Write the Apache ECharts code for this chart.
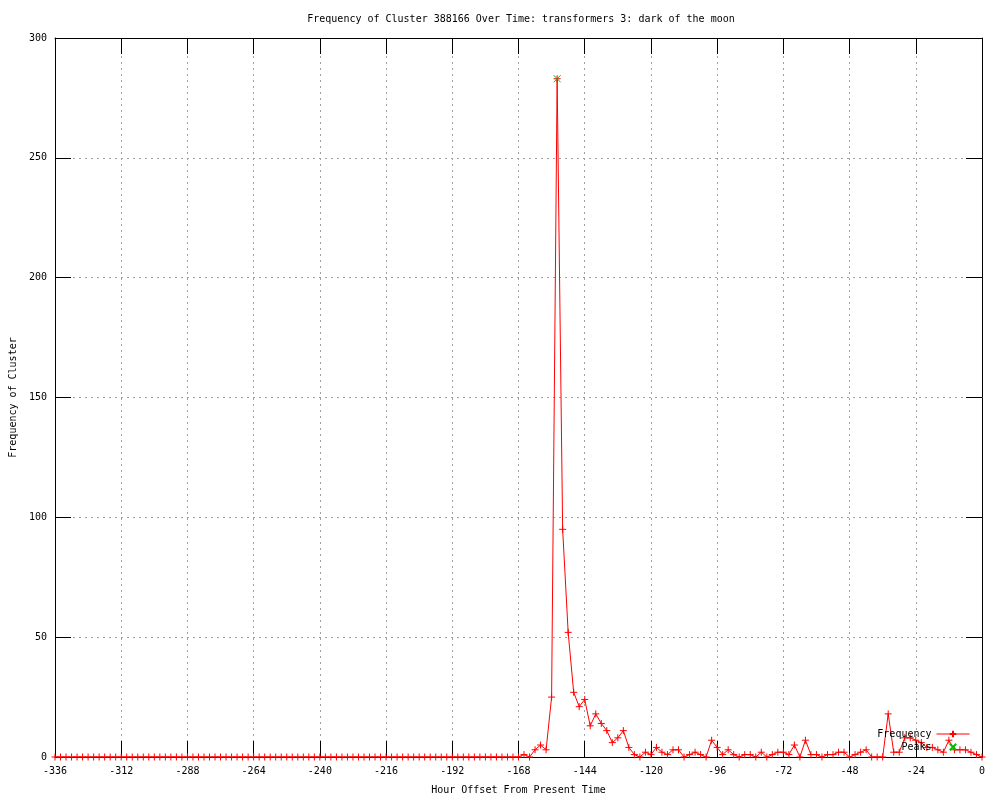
<!DOCTYPE html>
<html>
<head>
<meta charset="utf-8">
<script src="https://cdn.jsdelivr.net/npm/echarts@6/dist/echarts.min.js"></script>
<style>html,body{margin:0;padding:0;background:#fff}#c{width:1000px;height:800px}</style>
</head>
<body>
<div id="c"></div>
<script>
const titleText = 'Frequency of Cluster 388166 Over Time: transformers 3: dark of the moon';
const xName = 'Hour Offset From Present Time';
const yName = 'Frequency of Cluster';
const startHour = -336;
const stepHours = 2;
// Frequency values every 2 hours from -336 to 0
const frequency = [
  0,0,0,0,0,0,0,0,0,0, 0,0,0,0,0,0,0,0,0,0,
  0,0,0,0,0,0,0,0,0,0, 0,0,0,0,0,0,0,0,0,0,
  0,0,0,0,0,0,0,0,0,0, 0,0,0,0,0,0,0,0,0,0,
  0,0,0,0,0,0,0,0,0,0, 0,0,0,0,0,0,0,0,0,0,
  0,0,0,0,
  0,1,0,3,5,3,25,283,95,52,
  27,21,24,13,18,14,11,6,8,11,
  4,1,0,2,1,4,2,1,3,3,
  0,1,2,1,0,7,4,1,3,1,
  0,1,1,0,2,0,1,2,2,1,
  5,0,7,1,1,0,1,1,2,2,
  0,1,2,3,0,0,0,18,2,2,
  8,8,7,6,4,4,3,2,7,3,
  3,3,2,1,0
];
const peakHours = [-154];
const peakValues = [283];
const xTicks = {min: -336, max: 0, interval: 24};
const yTicks = {min: 0, max: 300, interval: 50};

const freqData = frequency.map((v, i) => [startHour + i * stepHours, v]);
const peakData = peakHours.map((h, i) => [h, peakValues[i]]);

const FONT = 'DejaVu Sans Mono';
const gridLine = {show: true, showMinLine: false, showMaxLine: false, lineStyle: {color: '#a0a0a0', width: 1, type: [2, 4]}};
const tick = {show: true, inside: true, length: 16, lineStyle: {color: '#000', width: 1}};
const axLine = {show: true, onZero: false, lineStyle: {color: '#000', width: 1}};
const lbl = {color: '#000', fontFamily: FONT, fontSize: 10};

const chart = echarts.init(document.getElementById('c'), null, {renderer: 'canvas'});
chart.setOption({
  animation: false,
  backgroundColor: '#fff',
  title: {
    text: titleText, left: 516, top: 9, textAlign: 'center',
    textStyle: {fontFamily: FONT, fontSize: 10, fontWeight: 'normal', color: '#000'}
  },
  grid: {left: 55, right: 18, top: 38, bottom: 40, show: false},
  legend: {
    orient: 'vertical', right: 30, top: 729, align: 'right', padding: 0,
    itemGap: 3, itemWidth: 33, itemHeight: 8,
    textStyle: {fontFamily: FONT, fontSize: 10, color: '#000'},
    data: [
      {name: 'Frequency', lineStyle: {width: 1, color: '#ff0000'}},
      {name: 'Peaks', lineStyle: {width: 0, opacity: 0}}
    ]
  },
  xAxis: [
    {type: 'value', position: 'bottom', min: xTicks.min, max: xTicks.max, interval: xTicks.interval,
     axisLine: axLine, axisTick: tick, splitLine: gridLine,
     axisLabel: Object.assign({margin: 9}, lbl),
     name: xName, nameLocation: 'middle', nameGap: 28, nameTextStyle: lbl},
    {type: 'value', position: 'top', min: xTicks.min, max: xTicks.max, interval: xTicks.interval,
     axisLine: axLine, axisTick: tick, splitLine: {show: false}, axisLabel: {show: false}}
  ],
  yAxis: [
    {type: 'value', position: 'left', min: yTicks.min, max: yTicks.max, interval: yTicks.interval,
     axisLine: axLine, axisTick: tick, splitLine: gridLine,
     axisLabel: Object.assign({margin: 8}, lbl),
     name: yName, nameLocation: 'middle', nameGap: 37, nameTextStyle: lbl},
    {type: 'value', position: 'right', min: yTicks.min, max: yTicks.max, interval: yTicks.interval,
     axisLine: axLine, axisTick: tick, splitLine: {show: false}, axisLabel: {show: false}}
  ],
  series: [
    {
      name: 'Frequency', type: 'line', data: freqData, xAxisIndex: 0, yAxisIndex: 0,
      symbol: 'path://M5,0L5,10M0,5L10,5', symbolSize: 7, showAllSymbol: true,
      lineStyle: {color: '#ff0000', width: 1},
      itemStyle: {color: '#ff0000', borderColor: '#ff0000', borderWidth: 1},
      emphasis: {disabled: true}, z: 3
    },
    {
      name: 'Peaks', type: 'line', data: peakData, xAxisIndex: 0, yAxisIndex: 0,
      symbol: 'path://M0,0L10,10M10,0L0,10', symbolSize: 7, showAllSymbol: true,
      lineStyle: {width: 0, opacity: 0, color: '#00c000'},
      itemStyle: {color: '#00c000', borderColor: '#00c000', borderWidth: 1},
      emphasis: {disabled: true}, z: 4
    }
  ]
});
</script>
</body>
</html>
